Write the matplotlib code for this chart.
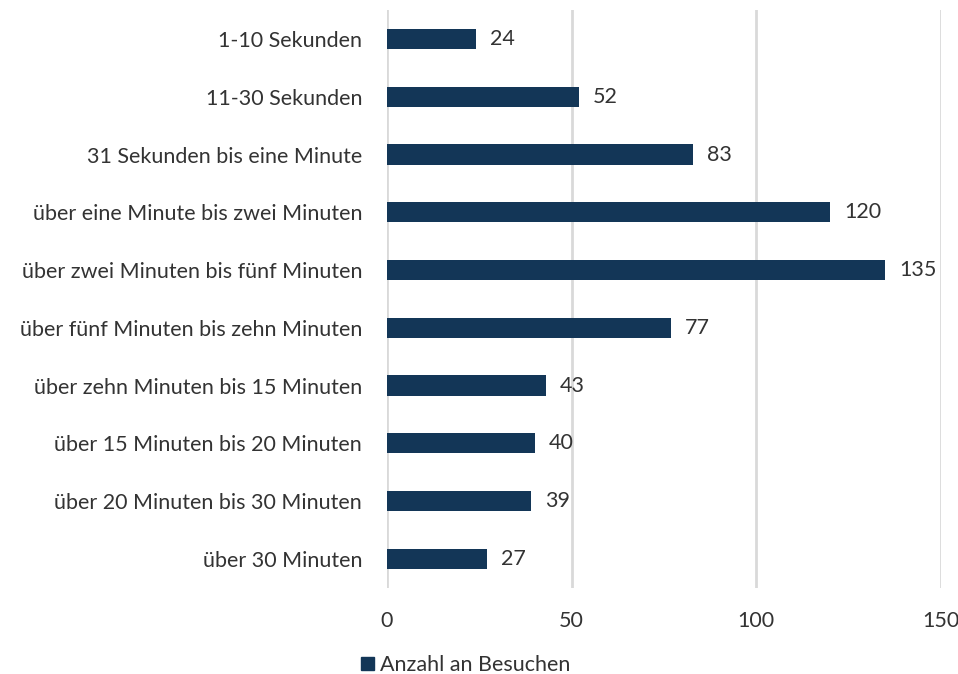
import matplotlib.pyplot as plt
from matplotlib.patches import Patch

plt.rcParams['font.family'] = ['Lato', 'DejaVu Sans']

categories = [
    '1-10 Sekunden',
    '11-30 Sekunden',
    '31 Sekunden bis eine Minute',
    'über eine Minute bis zwei Minuten',
    'über zwei Minuten bis fünf Minuten',
    'über fünf Minuten bis zehn Minuten',
    'über zehn Minuten bis 15 Minuten',
    'über 15 Minuten bis 20 Minuten',
    'über 20 Minuten bis 30 Minuten',
    'über 30 Minuten',
]
visits = [24, 52, 83, 120, 135, 77, 43, 40, 39, 27]
x_ticks = [0, 50, 100, 150]
series_name = 'Anzahl an Besuchen'

BAR = '#133657'
TXT = '#333333'
GRID = '#d9d9d9'
FS = 15.5

fig = plt.figure(figsize=(9.58, 6.74), dpi=100)
ax = fig.add_axes([0.404, 0.128, 0.578, 0.857])

pos = list(range(len(categories)))
ax.barh(pos, visits, height=0.35, color=BAR, zorder=3)
for p, v in zip(pos, visits):
    ax.annotate(str(v), (v, p), xytext=(10, 0), textcoords='offset points',
                va='center', ha='left', fontsize=FS, color=TXT)

ax.set_ylim(len(categories) - 0.5, -0.5)
ax.set_xlim(0, 150)
ax.set_yticks(pos)
ax.set_yticklabels(categories, fontsize=FS, color=TXT)
ax.set_xticks(x_ticks)
ax.set_xticklabels([str(t) for t in x_ticks], fontsize=FS, color=TXT)
ax.tick_params(axis='y', length=0, pad=18)
ax.tick_params(axis='x', length=0, pad=17)
ax.grid(axis='x', color=GRID, linewidth=2, zorder=0)
for s in ax.spines.values():
    s.set_visible(False)

fig.legend(handles=[Patch(color=BAR, label=series_name)], loc='center',
           bbox_to_anchor=(466 / 958, 1 - 665 / 674), frameon=False,
           fontsize=FS, handlelength=0.6, handleheight=0.6, handletextpad=0.3,
           labelcolor=TXT)

fig.savefig('out.png', dpi=100)
